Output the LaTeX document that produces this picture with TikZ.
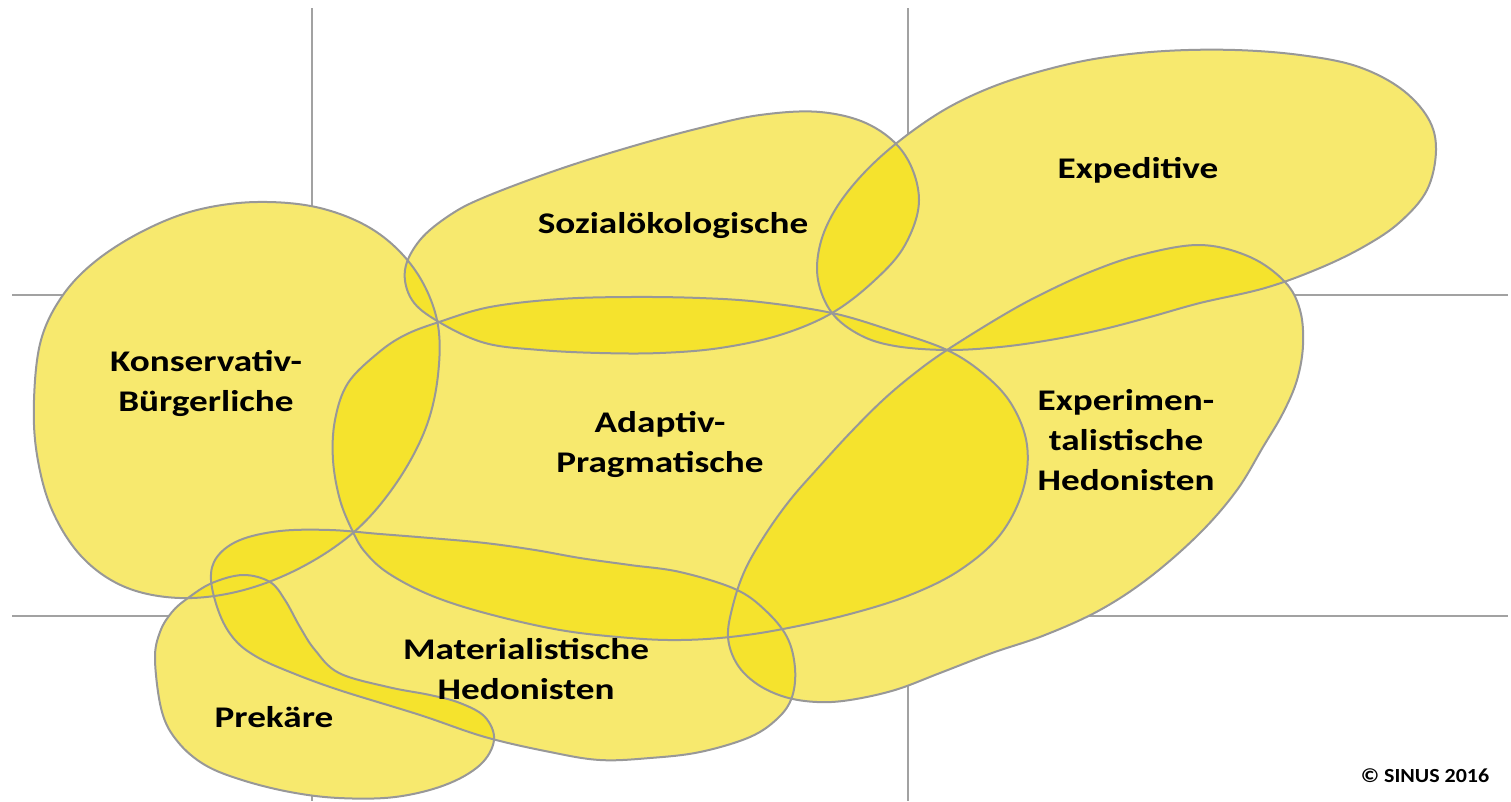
\documentclass[tikz,border=0pt]{standalone}
\usepackage{fontspec}
\setmainfont{Carlito}
\definecolor{lightyel}{RGB}{247,233,110}
\definecolor{darkyel}{RGB}{245,227,45}
\definecolor{rim}{RGB}{152,152,152}
\definecolor{gridgray}{RGB}{162,162,162}

% outlines of the milieus, in pixel coordinates
\newcommand{\blobkon}{plot[smooth cycle,tension=0.6] coordinates {(257,202) (320,208) (375,231) (415,270) (437,320) (438,375) (425,430) (395,485) (354,532) (300,568) (240,591) (180,598) (125,587) (82,557) (52,510) (37,455) (34,400) (41,340) (63,295) (97,260) (145,230) (197,210)}}
\newcommand{\blobsoz}{plot[smooth cycle,tension=0.6] coordinates {(405,270) (420,240) (450,215) (485,197) (557,170) (630,147) (700,128) (760,115) (820,112) (870,125) (905,155) (919,200) (905,245) (875,280) (832,313) (780,335) (720,348) (660,353) (600,353) (540,350) (485,343) (439,322) (412,300)}}
\newcommand{\blobexpd}{plot[smooth cycle,tension=0.6] coordinates {(898,142) (944,110) (992,87) (1045,70) (1100,58) (1165,51) (1235,50) (1300,55) (1356,66) (1400,88) (1428,118) (1436,150) (1427,190) (1400,222) (1365,246) (1320,268) (1265,288) (1200,303) (1150,317) (1100,330) (1050,340) (1000,347) (947,350) (895,346) (860,335) (832,313) (818,280) (820,245) (835,210) (862,175)}}
\newcommand{\blobada}{plot[smooth cycle,tension=0.6] coordinates {(439,322) (490,307) (560,299) (630,297) (700,298) (760,302) (832,313) (890,330) (947,350) (985,375) (1012,405) (1027,445) (1023,490) (1000,535) (960,570) (910,595) (850,614) (783,629) (730,637) (680,640) (630,638) (560,630) (485,613) (430,595) (388,573) (365,552) (353,532) (340,500) (333,460) (335,420) (348,383) (378,353) (405,335)}}
\newcommand{\blobxpe}{plot[smooth cycle,tension=0.6] coordinates {(1200,245) (1250,257) (1285,282) (1300,310) (1303,345) (1297,380) (1283,413) (1263,447) (1237,490) (1200,533) (1150,577) (1100,610) (1045,635) (992,653) (940,673) (895,690) (850,700) (817,702) (785,697) (757,684) (737,664) (728,637) (733,605) (745,570) (765,535) (790,500) (818,468) (850,433) (883,400) (915,373) (947,350) (1000,317) (1040,295) (1090,272) (1140,255)}}
\newcommand{\blobmat}{plot[smooth cycle,tension=0.6] coordinates {(211,580) (217,557) (240,540) (280,531) (330,530) (380,534) (430,538) (485,543) (535,550) (580,558) (630,565) (680,572) (735,589) (765,610) (787,637) (795,668) (792,697) (778,718) (750,737) (700,752) (650,758) (600,760) (550,752) (485,737) (420,715) (339,690) (290,672) (257,657) (235,640) (220,615)}}
\newcommand{\blobpre}{plot[smooth cycle,tension=0.6] coordinates {(155,660) (160,632) (172,612) (188,598) (212,583) (243,575) (270,582) (285,600) (300,627) (315,650) (339,673) (388,687) (430,695) (460,703) (485,717) (494,740) (480,765) (445,785) (395,797) (339,798) (290,792) (242,780) (205,765) (178,742) (162,712)}}

\begin{document}
\begin{tikzpicture}[x=1pt,y=-1pt,
  blob/.style={draw=rim,line width=2pt},
  overlap/.style={fill=darkyel},
  segname/.style={font=\fontsize{30}{40}\selectfont\bfseries,align=center,anchor=base,xscale=1.24}]
\useasboundingbox (0,0) rectangle (1511,801);

% axes
\draw[gridgray,line width=2pt] (312,8) -- (312,801) (908,8) -- (908,801)
  (12,295) -- (1508,295) (12,616) -- (1508,616);

\foreach \b in {\blobkon,\blobsoz,\blobexpd,\blobada,\blobxpe,\blobmat,\blobpre}
  \fill[lightyel] \b;

% overlaps
\foreach \a/\b in {\blobkon/\blobsoz,\blobkon/\blobada,\blobkon/\blobmat,\blobkon/\blobpre,
  \blobsoz/\blobexpd,\blobsoz/\blobada,\blobexpd/\blobada,\blobexpd/\blobxpe,
  \blobada/\blobxpe,\blobada/\blobmat,\blobmat/\blobxpe,\blobmat/\blobpre}{
  \begin{scope}
    \clip \a;
    \fill[overlap] \b;
  \end{scope}
}

\foreach \b in {\blobkon,\blobsoz,\blobexpd,\blobada,\blobxpe,\blobmat,\blobpre}
  \draw[blob] \b;

% last line sits on the given baseline
\node[segname] (kon) at (206,411) {Konservativ-\\Bürgerliche};
\node[segname] (soz) at (673,233) {Sozialökologische};
\node[segname] (expd) at (1138,178) {Expeditive};
\node[segname] (ada) at (660,472) {Adaptiv-\\Pragmatische};
\node[segname] (xpe) at (1126,490) {Experimen-\\talistische\\Hedonisten};
\node[segname] (mat) at (526,699) {Materialistische\\Hedonisten};
\node[segname] (pre) at (274,727) {Prekäre};
\node[font=\fontsize{20}{24}\selectfont\bfseries,anchor=base,xscale=1.1] (copy) at (1425,782) {© SINUS 2016};
\end{tikzpicture}
\end{document}
